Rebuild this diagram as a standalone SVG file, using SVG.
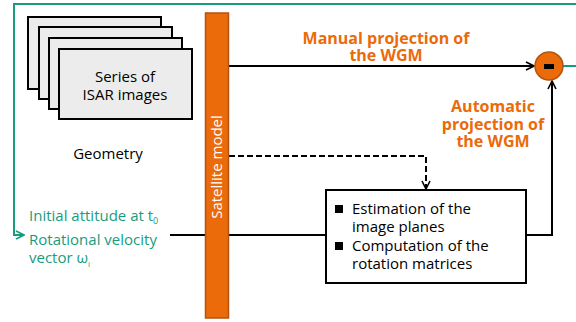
<svg xmlns="http://www.w3.org/2000/svg" width="576" height="322" viewBox="0 0 576 322">
<style>
.card{fill:#ececec;stroke:#000;stroke-width:2}
.t{font-family:"Open Sans","Liberation Sans",Arial,sans-serif;font-size:15px;fill:#000}
.o{font-family:"Open Sans","Liberation Sans",Arial,sans-serif;font-size:16px;font-weight:bold;fill:#EB6A0A;text-anchor:middle}
.g{font-family:"Open Sans","Liberation Sans",Arial,sans-serif;font-size:15px;fill:#179C7D}
.ln{fill:none;stroke:#000;stroke-width:2}
.dash{fill:none;stroke:#000;stroke-width:2;stroke-dasharray:6,3}
.gl{fill:none;stroke:#179C7D;stroke-width:2}
</style>
<defs>
<marker id="ah" viewBox="0 0 10 10" refX="9" refY="5" markerWidth="10" markerHeight="10" markerUnits="userSpaceOnUse" orient="auto">
<path d="M1,1 L9,5 L1,9" fill="none" stroke="#000" stroke-width="1.6"/>
</marker>
<marker id="ahg" viewBox="0 0 10 10" refX="9" refY="5" markerWidth="10" markerHeight="10" markerUnits="userSpaceOnUse" orient="auto">
<path d="M1,1 L9,5 L1,9" fill="none" stroke="#179C7D" stroke-width="1.6"/>
</marker>
</defs>
<g id="connectors">
<path class="gl" d="M576,4 H14 V235 H24" marker-end="url(#ahg)"/>
<path class="gl" d="M563,66 H576"/>
<path class="ln" d="M229,66 H534" marker-end="url(#ah)"/>
<path class="ln" d="M170,235 H205"/>
<path class="ln" d="M229,235 H326"/>
<path class="ln" d="M526,235 H552 V81" marker-end="url(#ah)"/>
<path class="dash" d="M229,156 H426 V189" marker-end="url(#ah)"/>
</g>
<g id="isar-images">
<rect class="card" x="28" y="17" width="133" height="72"/>
<rect class="card" x="39" y="27" width="133" height="72"/>
<rect class="card" x="49" y="38" width="133" height="71"/>
<rect class="card" x="59" y="49" width="133" height="70"/>
<text class="t" text-anchor="middle"><tspan x="125" y="82">Series of</tspan><tspan x="125" y="100">ISAR images</tspan></text>
</g>
<g id="geometry">
<text class="t" x="108" y="159" text-anchor="middle">Geometry</text>
</g>
<g id="satellite-model">
<rect x="205.5" y="13" width="23" height="305" fill="#EB6A0A" stroke="#B4540F" stroke-width="1.5"/>
<text x="217" y="167" transform="rotate(-90 217 167)" dy="5" text-anchor="middle" font-family="Open Sans,Liberation Sans,Arial,sans-serif" font-size="15" fill="#fff">Satellite model</text>
</g>
<g id="manual-label">
<text class="o"><tspan x="386" y="44">Manual projection of</tspan><tspan x="386" y="61">the WGM</tspan></text>
</g>
<g id="automatic-label">
<text class="o"><tspan x="493" y="112">Automatic</tspan><tspan x="493" y="130">projection of</tspan><tspan x="493" y="147">the WGM</tspan></text>
</g>
<g id="difference">
<circle cx="549" cy="66" r="14" fill="#EB6A0A" stroke="#B4540F" stroke-width="1.5"/>
<rect x="544" y="64" width="10" height="5" fill="#000"/>
</g>
<g id="estimation-box">
<rect x="326" y="190" width="200" height="93" fill="#fff" stroke="#000" stroke-width="2"/>
<rect x="335" y="205" width="8" height="8" fill="#000"/>
<rect x="335" y="242" width="8" height="8" fill="#000"/>
<text class="t"><tspan x="352" y="214">Estimation of the</tspan><tspan x="352" y="232">image planes</tspan></text>
<text class="t"><tspan x="352" y="251">Computation of the</tspan><tspan x="352" y="269">rotation matrices</tspan></text>
</g>
<g id="inputs">
<text class="g" x="29" y="221">Initial attitude at t<tspan font-size="9" dy="3">0</tspan></text>
<text class="g"><tspan x="29" y="245">Rotational velocity</tspan><tspan x="29" y="263">vector ω</tspan><tspan font-size="8" dy="4">i</tspan></text>
</g>
</svg>
